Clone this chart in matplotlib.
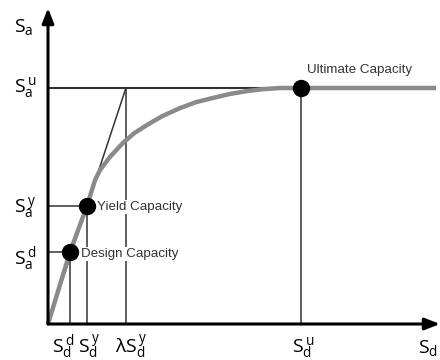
import numpy as np
import matplotlib
matplotlib.use("Agg")
import matplotlib.pyplot as plt

# capacity curve values (normalised: Sd_u = 1, Sa_u = 1)
sd_d = 0.087
sd_y = 0.154
lam_sd_y = 0.308
sd_u = 1.0
sa_d = 0.305
sa_y = 0.5
sa_u = 1.0

curve_sd = [0.0, 0.087, 0.154, 0.186, 0.206, 0.245, 0.296, 0.34, 0.391, 0.45,
            0.522, 0.585, 0.652, 0.72, 0.787, 0.85, 0.917, 1.0, 1.534]
curve_sa = [0.0, 0.305, 0.5, 0.610, 0.653, 0.708, 0.767, 0.808, 0.843, 0.880,
            0.915, 0.940, 0.958, 0.975, 0.987, 0.995, 1.0, 1.0, 1.0]

pt_sd = [sd_d, sd_y, sd_u]
pt_sa = [sa_d, sa_y, sa_u]
pt_names = ["Design Capacity", "Yield Capacity", "Ultimate Capacity"]

fig = plt.figure(figsize=(4.4, 3.6), dpi=100)
ax = fig.add_axes([0, 0, 1, 1])
ax.set_xlim(-48 / 253, 392 / 253)
ax.set_ylim(-36 / 236, 324 / 236)
ax.axis("off")

dark = "#333333"
thin = 1.1

# guide lines
for x, y in zip(pt_sd, pt_sa):
    ax.plot([x, x], [0, y], color=dark, lw=thin, zorder=2)
    ax.plot([0, x], [y, y], color=dark, lw=thin, zorder=2)
ax.plot([0, sd_u], [sa_u, sa_u], color=dark, lw=1.5, zorder=2)
ax.plot([lam_sd_y, lam_sd_y], [0, sa_u], color=dark, lw=thin, zorder=2)
ax.plot([0, lam_sd_y], [0, sa_u], color=dark, lw=thin, zorder=2)

# capacity curve
ax.plot(curve_sd, curve_sa, color="#8a8a8a", lw=3.2, solid_capstyle="butt", zorder=4)
ax.plot(pt_sd, pt_sa, "o", color="black", ms=11.5, zorder=6)

# axes with arrows
ax.annotate("", xy=(392 / 253, 0), xytext=(0, 0),
            arrowprops=dict(arrowstyle="-|>,head_length=0.9,head_width=0.35",
                            color="black", lw=2.2, shrinkA=0, shrinkB=0), zorder=7)
ax.annotate("", xy=(0, 316 / 236), xytext=(0, 0),
            arrowprops=dict(arrowstyle="-|>,head_length=0.9,head_width=0.35",
                            color="black", lw=2.2, shrinkA=0, shrinkB=0), zorder=7)

# point labels
lab = dict(fontsize=9.6, color="#333333", family="Liberation Sans", zorder=5,
           bbox=dict(facecolor="white", edgecolor="none", pad=0.5))
ax.text(sd_d + 0.045, sa_d - 0.008, pt_names[0], ha="left", va="center", **lab)
ax.text(sd_y + 0.04, sa_y - 0.004, pt_names[1], ha="left", va="center", **lab)
ax.text(sd_u + 0.022, sa_u + 0.075, pt_names[2], ha="left", va="center",
        fontsize=9.6, color="#333333", family="Liberation Sans")

# axis labels
sym = dict(fontsize=14, color="black", family="Open Sans", va="baseline")
xr = -12 / 253
ax.text(xr - 0.01, 1.237, r"$\mathregular{S_a}$", ha="right", **sym)
ax.text(xr, 0.983, r"$\mathregular{S_a^{\,u}}$", ha="right", **sym)
ax.text(xr, 0.470, r"$\mathregular{S_a^{\,y}}$", ha="right", **sym)
ax.text(xr, 0.250, r"$\mathregular{S_a^{\,d}}$", ha="right", **sym)

yb = -0.123
ax.text(0.016, yb, r"$\mathregular{S_d^{\,d}}$", ha="left", **sym)
ax.text(0.119, yb, r"$\mathregular{S_d^{\,y}}$", ha="left", **sym)
ax.text(0.265, yb, r"$\mathregular{λS_d^{\,y}}$", ha="left", **sym)
ax.text(0.964, yb, r"$\mathregular{S_d^{\,u}}$", ha="left", **sym)
ax.text(1.462, yb, r"$\mathregular{S_d}$", ha="left", **sym)

fig.savefig("out.png", dpi=100)
